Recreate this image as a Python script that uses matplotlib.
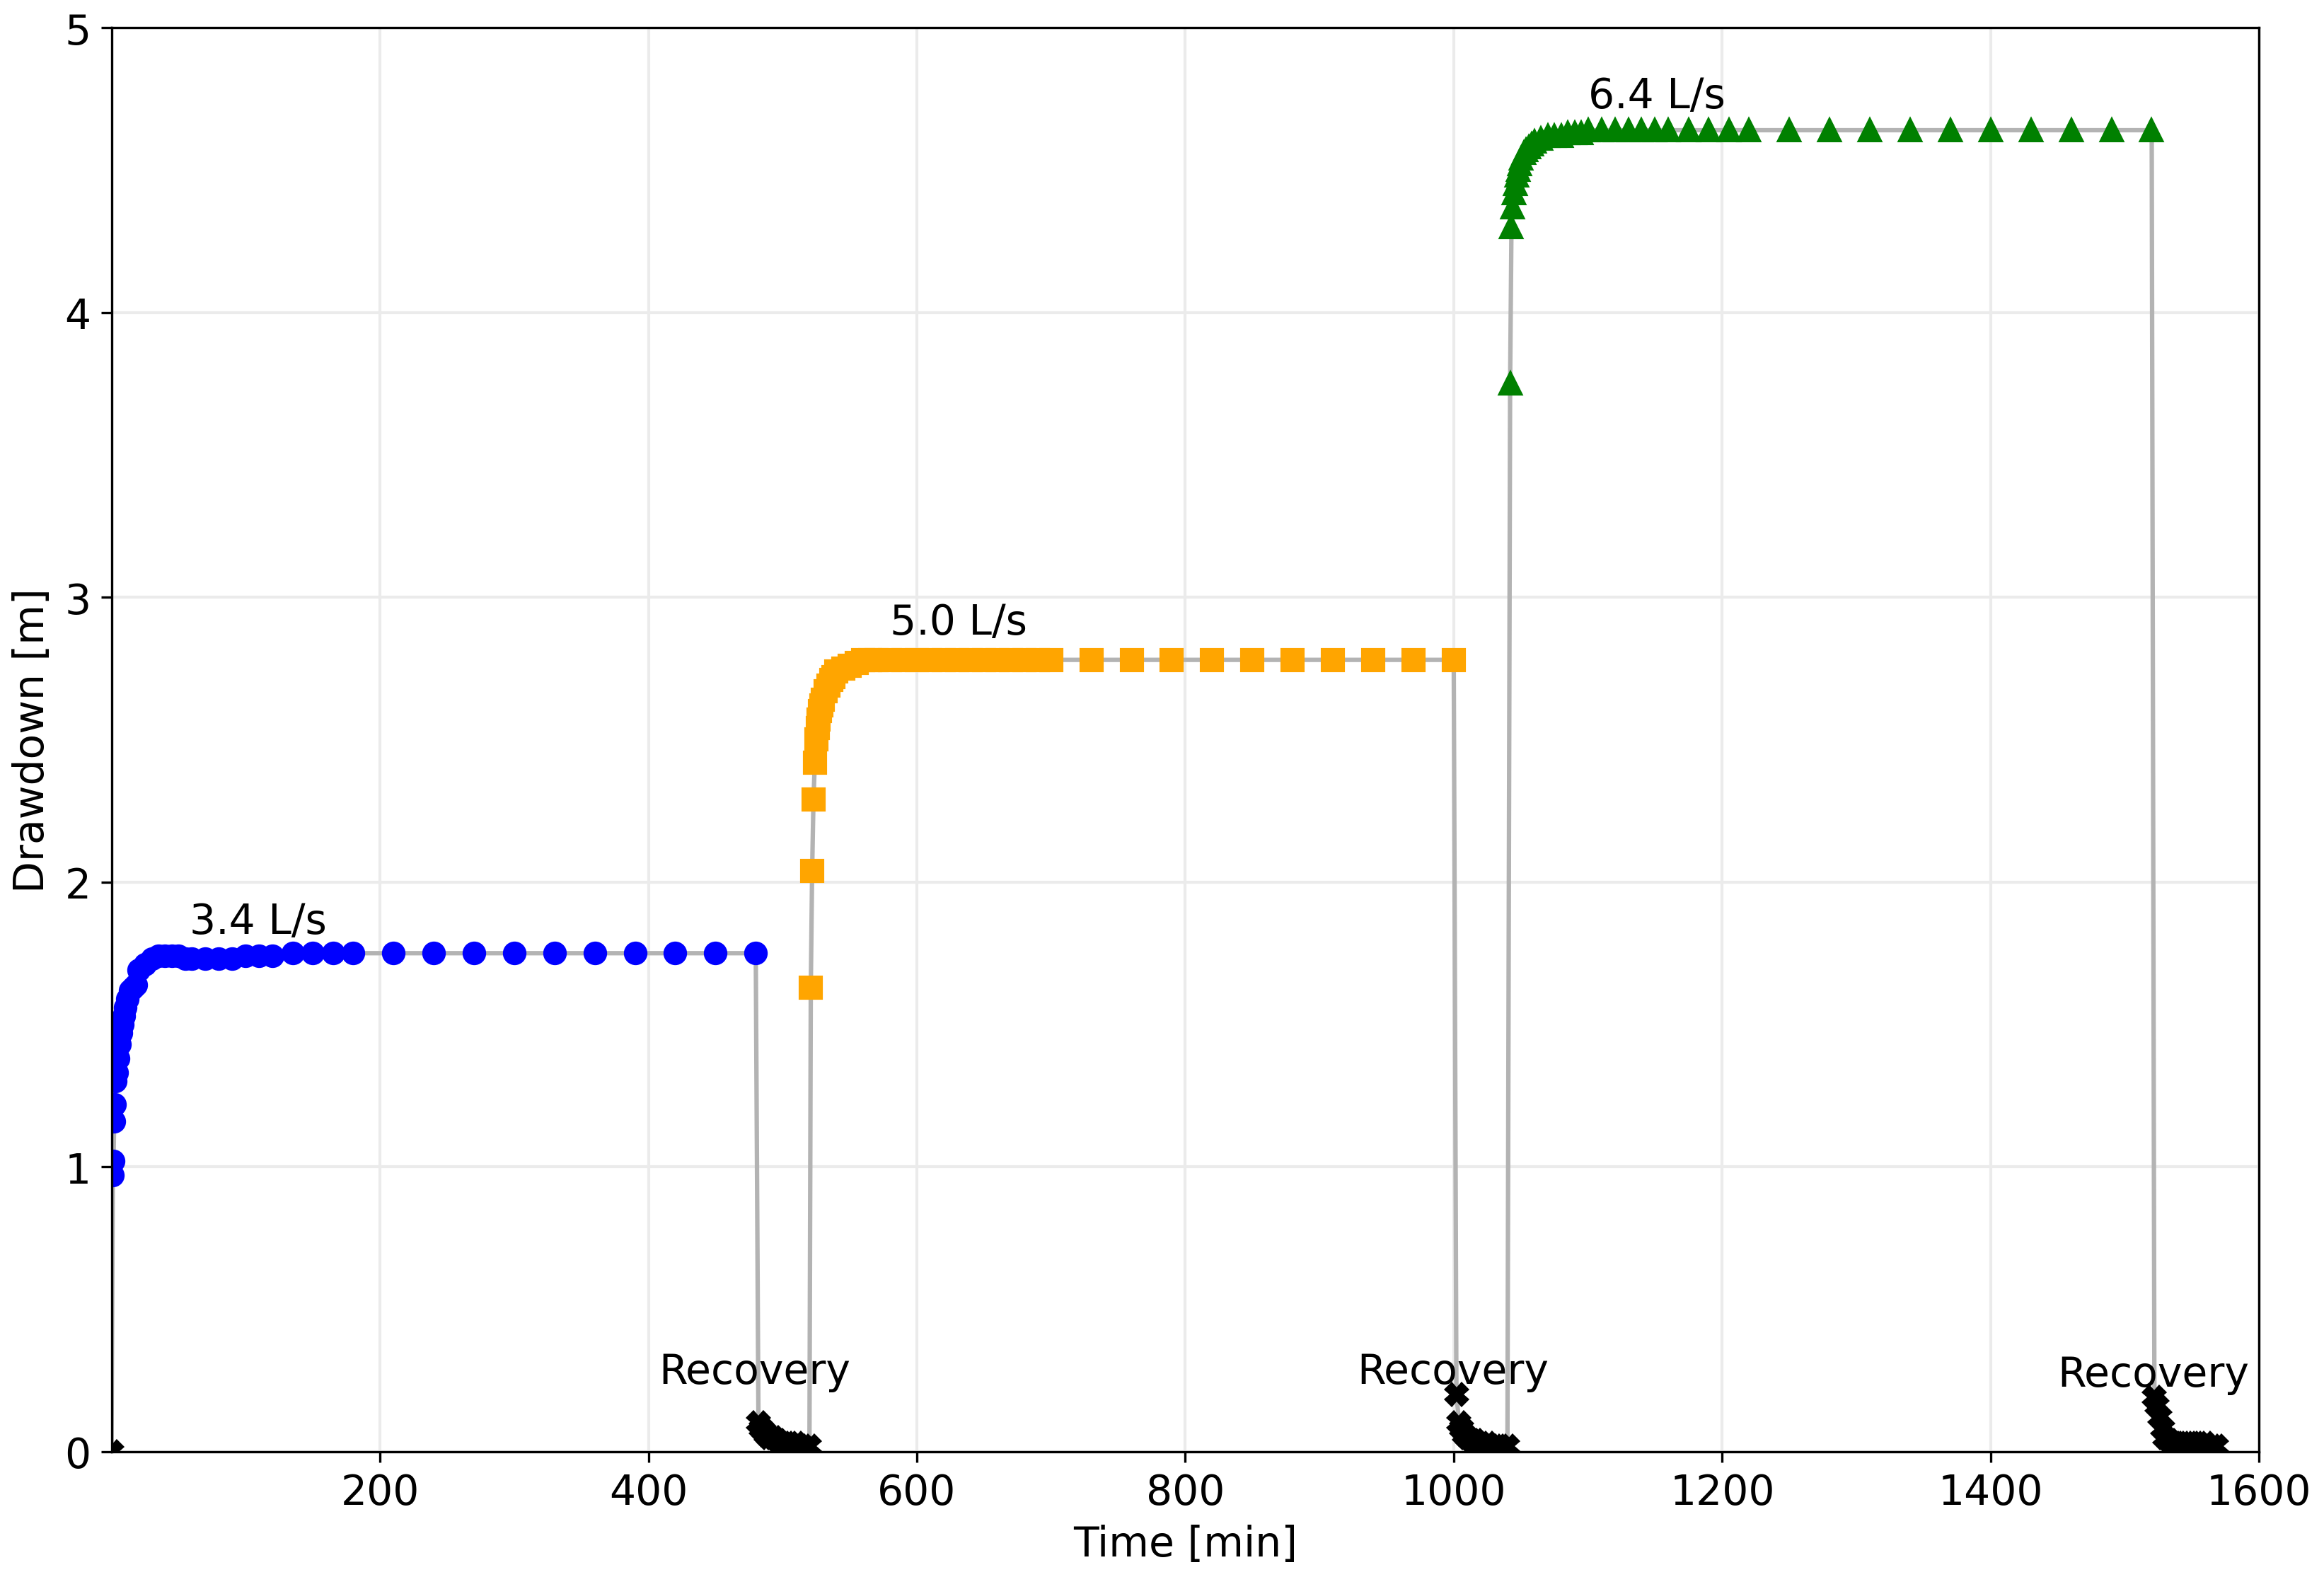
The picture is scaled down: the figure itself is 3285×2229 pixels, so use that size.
import matplotlib
matplotlib.use("Agg")
import matplotlib.pyplot as plt

# Step 1 (3.4 L/s)
t1 = [1, 1.5, 2, 2.5, 3, 4, 5, 6, 7, 8, 9, 10, 12, 14, 16, 18, 20, 25, 30, 35, 40, 45, 50,
      55, 60, 70, 80, 90, 100, 110, 120, 135, 150, 165, 180, 210, 240, 270, 300, 330, 360,
      390, 420, 450, 480]
s1 = [0.97, 1.02, 1.16, 1.22, 1.30, 1.33, 1.38, 1.43, 1.47, 1.50, 1.53, 1.56, 1.59, 1.62,
      1.63, 1.64, 1.69, 1.71, 1.73, 1.74, 1.74, 1.74, 1.74, 1.73, 1.73, 1.73, 1.73, 1.73,
      1.74, 1.74, 1.74, 1.75, 1.75, 1.75, 1.75, 1.75, 1.75, 1.75, 1.75, 1.75, 1.75, 1.75,
      1.75, 1.75, 1.75]
# Recovery 1
tr1 = [482, 484, 486, 488, 490, 493, 496, 500, 505, 510, 515, 520]
sr1 = [0.10, 0.08, 0.07, 0.06, 0.05, 0.05, 0.04, 0.03, 0.03, 0.03, 0.02, 0.02]
# Step 2 (5.0 L/s)
t2 = [521, 522, 523, 524, 525, 526, 527, 528, 529, 530, 532, 534, 536, 538, 540, 545, 550,
      555, 560, 565, 570, 580, 590, 600, 610, 620, 630, 640, 650, 660, 670, 680, 690, 700,
      730, 760, 790, 820, 850, 880, 910, 940, 970, 1000]
s2 = [1.63, 2.04, 2.29, 2.42, 2.50, 2.54, 2.57, 2.60, 2.62, 2.64, 2.67, 2.69, 2.71, 2.72,
      2.74, 2.75, 2.76, 2.77, 2.78, 2.78, 2.78, 2.78, 2.78, 2.78, 2.78, 2.78, 2.78, 2.78,
      2.78, 2.78, 2.78, 2.78, 2.78, 2.78, 2.78, 2.78, 2.78, 2.78, 2.78, 2.78, 2.78, 2.78,
      2.78, 2.78]
# Recovery 2
tr2 = [1002, 1004, 1006, 1008, 1010, 1013, 1016, 1020, 1025, 1030, 1035, 1040]
sr2 = [0.20, 0.10, 0.08, 0.06, 0.05, 0.04, 0.04, 0.03, 0.03, 0.02, 0.02, 0.02]
# Step 3 (6.4 L/s)
t3 = [1042, 1043, 1044, 1045, 1046, 1047, 1048, 1049, 1050, 1052, 1054, 1056, 1058, 1060,
      1065, 1070, 1075, 1080, 1085, 1090, 1095, 1100, 1110, 1120, 1130, 1140, 1150, 1160,
      1175, 1190, 1205, 1220, 1250, 1280, 1310, 1340, 1370, 1400, 1430, 1460, 1490, 1520]
s3 = [3.75, 4.30, 4.37, 4.42, 4.45, 4.48, 4.50, 4.52, 4.54, 4.56, 4.57, 4.58, 4.59, 4.60,
      4.61, 4.62, 4.62, 4.62, 4.63, 4.63, 4.63, 4.64, 4.64, 4.64, 4.64, 4.64, 4.64, 4.64,
      4.64, 4.64, 4.64, 4.64, 4.64, 4.64, 4.64, 4.64, 4.64, 4.64, 4.64, 4.64, 4.64, 4.64]
# Recovery 3
tr3 = [1522, 1524, 1526, 1528, 1530, 1533, 1536, 1540, 1545, 1550, 1555, 1560, 1565, 1568]
sr3 = [0.19, 0.16, 0.12, 0.08, 0.05, 0.04, 0.03, 0.03, 0.03, 0.03, 0.03, 0.03, 0.02, 0.02]

plt.rcParams['font.size'] = 14
fig, ax = plt.subplots(figsize=(10.95, 7.433), dpi=300)

t_all = [0] + t1 + tr1 + t2 + tr2 + t3 + tr3
s_all = [0] + s1 + sr1 + s2 + sr2 + s3 + sr3
ax.plot(t_all, s_all, color='#b3b3b3', lw=1.5, zorder=1)

ax.plot(t1, s1, 'o', color='blue', ms=7, zorder=2)
ax.plot(t2, s2, 's', color='orange', ms=7, zorder=2)
ax.plot(t3, s3, '^', color='green', ms=7, zorder=2)
for tr, sr in [([0], [0]), (tr1, sr1), (tr2, sr2), (tr3, sr3)]:
    ax.plot(tr, sr, 'X', color='black', ms=7, zorder=2)

ax.text(58, 1.82, '3.4 L/s')
ax.text(580, 2.87, '5.0 L/s')
ax.text(1100, 4.72, '6.4 L/s')
ax.text(408, 0.24, 'Recovery')
ax.text(928, 0.24, 'Recovery')
ax.text(1450, 0.23, 'Recovery')

ax.set_xlim(0, 1600)
ax.set_ylim(0, 5)
ax.set_xticks(range(200, 1601, 200))
ax.grid(True, color='#ebebeb', lw=1)
ax.set_axisbelow(True)
ax.set_xlabel('Time [min]')
ax.set_ylabel('Drawdown [m]')

plt.tight_layout(pad=0.3)
plt.savefig('out.png')
